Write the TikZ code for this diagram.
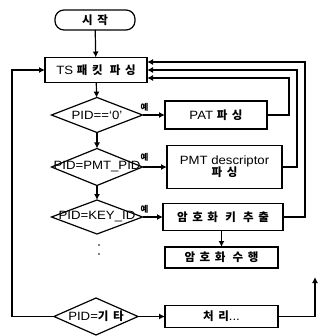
\documentclass[tikz,border=0pt]{standalone}
\usepackage{fontspec}
\setmainfont[FakeStretch=1.1]{Liberation Sans}
\newfontfamily\kr[LetterSpace=40]{Noto Sans CJK KR}
\newcommand{\kor}[1]{{\kr\bfseries\fontsize{11.5}{13}\selectfont #1}}
\usetikzlibrary{shapes.geometric,arrows.meta}
\begin{document}
\begin{tikzpicture}[x=1pt,y=-1pt,
  line width=1.2pt,
  every node/.style={font=\fontsize{12}{13}\selectfont},
  box/.style={draw, rectangle, inner sep=0pt, outer sep=0pt},
  dia/.style={draw, diamond, inner sep=0pt, outer sep=0pt, minimum width=91pt},
  arr/.style={-{Latex[length=6pt,width=6pt]}},
  yes/.style={font=\kr\bfseries\fontsize{8.5}{9}\selectfont, inner sep=0pt}]
\useasboundingbox (0,0) rectangle (321,336);
% nodes
\node[box, rounded corners=9pt, minimum width=80pt, minimum height=20pt] (start) at (95,20) {\kor{시작}};
\node[box, minimum width=102pt, minimum height=25pt] (ts) at (96,70) {TS \kor{패킷 파싱}};
\node[dia, minimum height=35pt, label={center:PID==‘0’}] (d1) at (97,115) {};
\node[box, minimum width=102pt, minimum height=28pt] (pat) at (216,115) {PAT \kor{파싱}};
\node[dia, minimum height=37pt, label={center:PID=PMT\_PID}] (d2) at (97,167) {};
\node[box, minimum width=115pt, minimum height=43pt, align=center] (pmt) at (224.5,167) {PMT descriptor\\[-1pt]\kor{파싱}};
\node[dia, minimum height=34pt, label={center:PID=KEY\_ID}] (d3) at (97,217) {};
\node[box, minimum width=120pt, minimum height=27pt] (key) at (223,217) {\kor{암호화 키 추출}};
\node[box, minimum width=113pt, minimum height=21pt] (enc) at (221.5,257.5) {\kor{암호화 수행}};
\node[dia, minimum width=84pt, minimum height=37pt, label={center:PID=\kor{기타}}] (d4) at (96,316.5) {};
\node[box, minimum width=113pt, minimum height=22pt] (proc) at (221.5,316.5) {\kor{처리}...};
\node[yes] (y1) at ([xshift=2pt,yshift=8pt]d1.east) {예};
\node[yes] (y2) at ([xshift=2pt,yshift=10pt]d2.east) {예};
\node[yes] (y3) at ([xshift=2pt,yshift=8pt]d3.east) {예};
\coordinate (pend) at (315,277);
% dots
\fill (99,245) circle (0.8pt);
\fill (99,254) circle (0.8pt);
% connectors
\draw[arr] (start) -- (ts);
\draw[arr] (ts) -- (d1);
\draw[arr] (d1) -- (d2);
\draw[arr] (d2) -- (d3);
\draw[arr] (d1.east) -- (pat.west);
\draw[arr] (d2.east) -- (pmt.west);
\draw[arr] (d3.east) -- (key.west);
\draw[arr] (key.south -| enc.north) -- (enc.north);
\draw[arr] (d4.east) -- (proc.west);
\draw[arr] (d4.west) -- ++(-42,0) |- (ts.west);
\draw[arr] (pat.east) -- ++(22,0) |- ([yshift=-8pt]ts.east);
\draw[arr] (pmt.east) -- ++(15,0) |- (ts.east);
\draw[arr] (key.east) -- ++(22,0) |- ([yshift=8pt]ts.east);
\draw[arr] (proc.east) -| (pend);
\end{tikzpicture}
\end{document}
